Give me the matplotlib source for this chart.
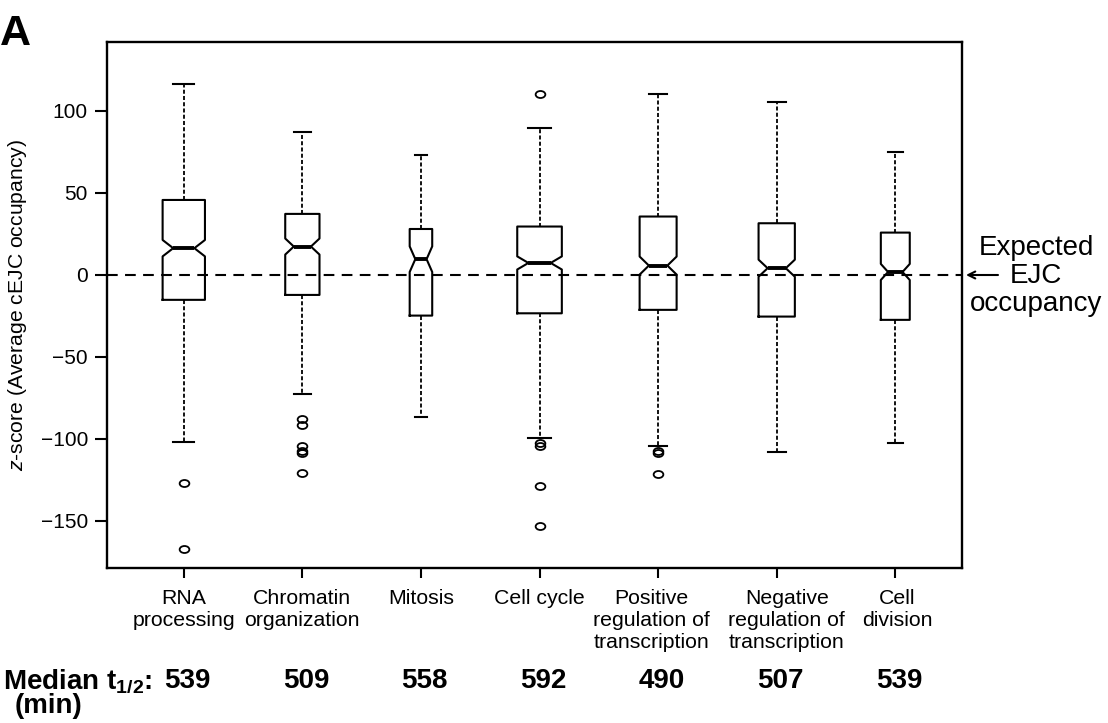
import numpy as np
import matplotlib
matplotlib.use('Agg')
import matplotlib.pyplot as plt
from matplotlib.path import Path
from matplotlib.transforms import Affine2D, ScaledTranslation, blended_transform_factory

# data
categories = ['RNA\nprocessing', 'Chromatin\norganization', 'Mitosis', 'Cell cycle',
              'Positive\nregulation of\ntranscription',
              'Negative\nregulation of\ntranscription', 'Cell\ndivision']
medians = [16.3, 17.3, 9.6, 7.3, 5.7, 4.1, 1.8]
q1 = [-15.2, -12.2, -24.8, -23.4, -21.3, -25.4, -27.4]
q3 = [45.7, 37.2, 28.0, 29.5, 35.6, 31.5, 25.8]
whisk_lo = [-102.0, -72.6, -86.8, -99.2, -104.0, -108.0, -102.6]
whisk_hi = [116.3, 87.0, 73.2, 89.4, 110.2, 105.3, 75.2]
notch_lo = [11.3, 12.4, 1.8, 3.3, 0.2, -1.1, -3.1]
notch_hi = [21.3, 22.2, 17.4, 11.3, 11.2, 9.3, 6.7]
outliers = [[-127.0, -167.0],
            [-87.8, -91.5, -104.0, -107.5, -108.8, -121.0],
            [],
            [110.0, -102.7, -104.2, -128.5, -152.8],
            [-107.2, -108.8, -121.3],
            [],
            []]
median_half_life = ['539', '509', '558', '592', '490', '507', '539']

# box widths (proportional to group size in the original)
box_widths = [0.357, 0.289, 0.19, 0.376, 0.312, 0.306, 0.244]
# small sideways nudges of the category labels, in pixels
label_nudge = [0, 0, 0, 0, -7, 10, 2]

plt.rcParams['font.family'] = ['Liberation Sans', 'DejaVu Sans']
plt.rcParams['mathtext.fontset'] = 'custom'
plt.rcParams['mathtext.rm'] = 'Liberation Sans'
plt.rcParams['mathtext.it'] = 'Liberation Sans:italic'
plt.rcParams['mathtext.bf'] = 'Liberation Sans:bold'
plt.rcParams['lines.scale_dashes'] = False

W, H = 1108, 723
fig = plt.figure(figsize=(W / 100, H / 100), dpi=100)
ax = fig.add_axes([106.7 / W, 1 - 567.7 / H, (961.7 - 106.7) / W, (567.7 - 42) / H])

stats = []
for i in range(len(categories)):
    stats.append(dict(med=medians[i], q1=q1[i], q3=q3[i],
                      whislo=whisk_lo[i], whishi=whisk_hi[i],
                      cilo=notch_lo[i], cihi=notch_hi[i],
                      fliers=np.array(outliers[i])))

positions = np.arange(1, len(categories) + 1)

ellipse = Path.unit_circle().transformed(Affine2D().scale(1.0, 0.72))

ax.axhline(0, color='black', lw=1.5, dashes=(7.7, 5.3), zorder=1)

ax.bxp(stats, positions=positions, widths=box_widths, shownotches=True,
       boxprops=dict(color='black', lw=1.5),
       whiskerprops=dict(color='black', lw=1.3, dashes=(2.9, 1.6)),
       capprops=dict(color='black', lw=1.5),
       medianprops=dict(color='black', lw=2.8, solid_capstyle='butt'),
       flierprops=dict(marker=ellipse, markersize=7, markerfacecolor='none',
                       markeredgecolor='black', markeredgewidth=1.3, linestyle='none'))

ax.set_xlim(0.35, 7.56)
ax.set_ylim(-178.5, 142)
ax.set_yticks([-150, -100, -50, 0, 50, 100])
ax.set_xticks(positions)
ax.set_xticklabels([])
ax.tick_params(axis='y', direction='out', length=8.5, width=1.5, pad=5, labelsize=15)
ax.tick_params(axis='x', direction='out', length=7.5, width=1.5)
for sp in ax.spines.values():
    sp.set_linewidth(1.7)
ax.set_ylabel(r'$z$-score (Average cEJC occupancy)', fontsize=15.2, labelpad=8)

# category labels under the ticks
xlab_trans = ax.get_xaxis_transform()
for p, lab, dx in zip(positions, categories, label_nudge):
    off = ScaledTranslation(dx / 100, -21 / 100, fig.dpi_scale_trans)
    ax.text(p, 0, lab, transform=xlab_trans + off, fontsize=15.3, linespacing=1.22,
            ha='center', va='top', multialignment='center')

# panel letter
fig.text(0 / W, 1 - 45 / H, 'A', fontsize=31, fontweight='bold', ha='left', va='baseline')

# right-hand note
fig.text(1036 / W, 1 - 276 / H, 'Expected\nEJC\noccupancy', fontsize=20,
         ha='center', va='center', linespacing=1.08)
ax.annotate('', xy=(966 / W, 1 - 275 / H), xytext=(998 / W, 1 - 275 / H),
            xycoords='figure fraction', textcoords='figure fraction',
            arrowprops=dict(arrowstyle='->,head_length=0.5,head_width=0.25',
                            lw=1.5, color='black', shrinkA=0, shrinkB=0))

# half-life row
fig.text(2.7 / W, 1 - 681.5 / H, r'Median t$_{\mathbf{1/2}}$:', fontsize=20,
         fontweight='bold', ha='left', va='center')
fig.text(15 / W, 1 - 706 / H, '(min)', fontsize=20, fontweight='bold',
         ha='left', va='center')
trans = blended_transform_factory(ax.transData, fig.transFigure)
for p, v in zip(positions, median_half_life):
    ax.text(p + 0.03, 1 - 681.5 / H, v, transform=trans, fontsize=20,
            fontweight='bold', ha='center', va='center')

fig.savefig('out.png', dpi=100)
